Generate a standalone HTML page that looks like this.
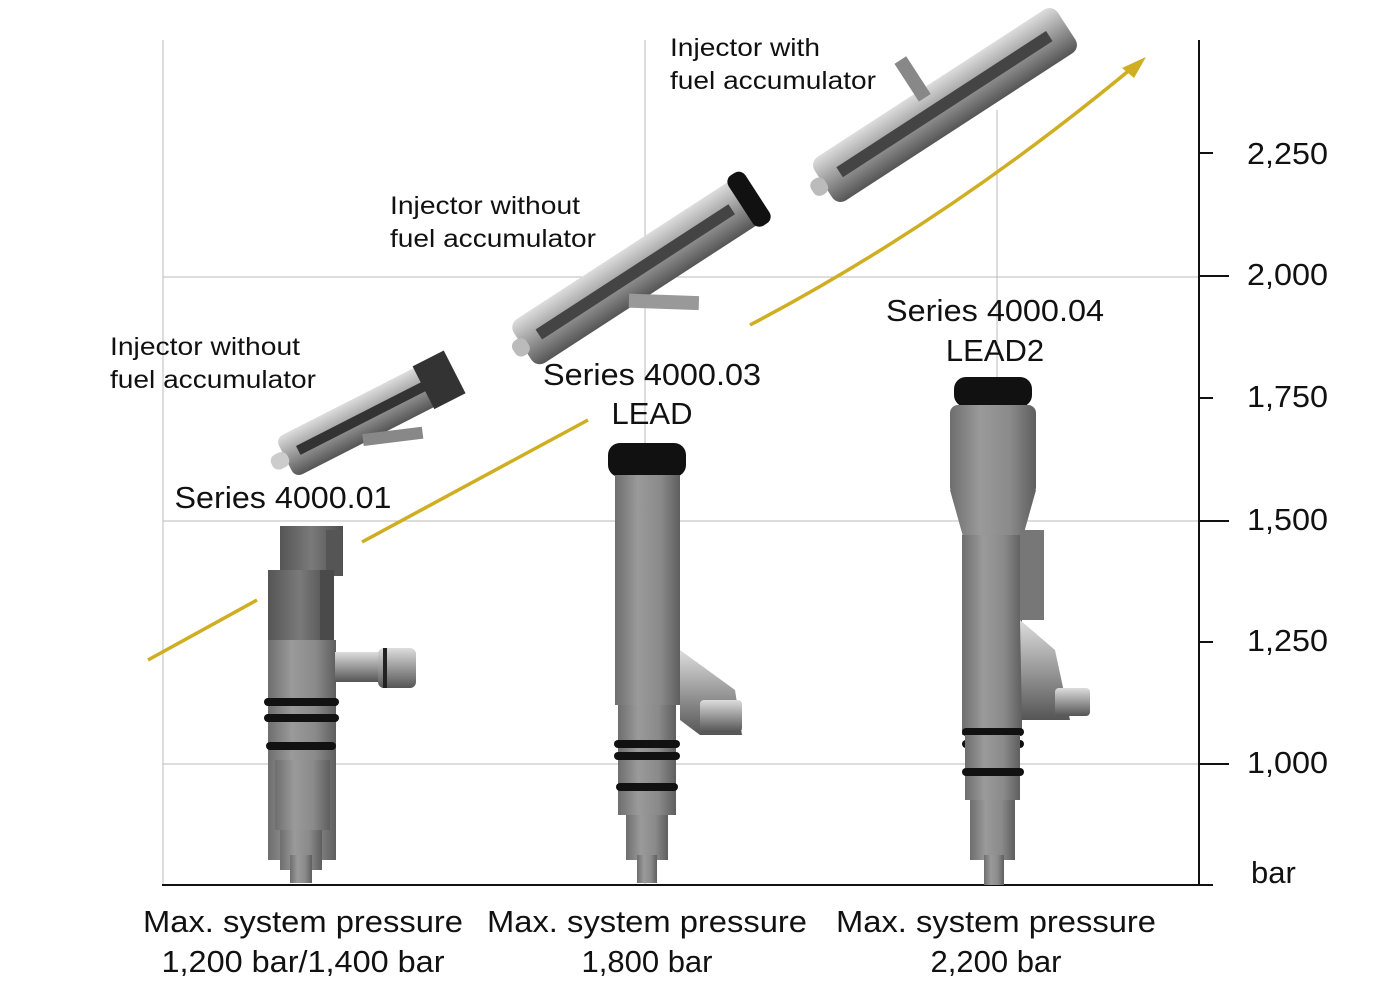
<!DOCTYPE html>
<html><head><meta charset="utf-8"><style>
html,body{margin:0;padding:0;background:#fff;}
svg{display:block;}
text{font-family:"Liberation Sans",sans-serif;fill:#111;}
</style></head><body>
<svg width="1373" height="1000" viewBox="0 0 1373 1000" xmlns="http://www.w3.org/2000/svg">
<defs>
<linearGradient id="g" x1="0" x2="1" y1="0" y2="0">
<stop offset="0" stop-color="#6e6e6e"/><stop offset="0.35" stop-color="#9a9a9a"/><stop offset="0.7" stop-color="#8a8a8a"/><stop offset="1" stop-color="#5e5e5e"/></linearGradient>
<linearGradient id="gd" x1="0" x2="1" y1="0" y2="0">
<stop offset="0" stop-color="#555"/><stop offset="0.5" stop-color="#7a7a7a"/><stop offset="1" stop-color="#4e4e4e"/></linearGradient>
<linearGradient id="gl" x1="0" x2="0" y1="0" y2="1">
<stop offset="0" stop-color="#ddd"/><stop offset="0.5" stop-color="#999"/><stop offset="1" stop-color="#555"/></linearGradient>
</defs>
<g stroke="#bbb" stroke-width="1">
<line x1="163" y1="40" x2="163" y2="885"/>
<line x1="645" y1="40" x2="645" y2="885"/>
<line x1="997" y1="110" x2="997" y2="885"/>
<line x1="163" y1="277" x2="1199" y2="277"/>
<line x1="163" y1="521" x2="1199" y2="521"/>
<line x1="163" y1="764" x2="1199" y2="764"/>
</g>
<g stroke="#111" stroke-width="2">
<line x1="1199" y1="40" x2="1199" y2="886"/>
<line x1="162" y1="885" x2="1213" y2="885"/>
<line x1="1199" y1="153" x2="1213" y2="153"/>
<line x1="1199" y1="276" x2="1229" y2="276"/>
<line x1="1199" y1="398" x2="1213" y2="398"/>
<line x1="1199" y1="521" x2="1229" y2="521"/>
<line x1="1199" y1="642" x2="1213" y2="642"/>
<line x1="1199" y1="764" x2="1229" y2="764"/>
</g>
<g font-size="31">
<text x="1247" y="164" textLength="81" lengthAdjust="spacingAndGlyphs">2,250</text>
<text x="1247" y="285" textLength="81" lengthAdjust="spacingAndGlyphs">2,000</text>
<text x="1247" y="407" textLength="81" lengthAdjust="spacingAndGlyphs">1,750</text>
<text x="1247" y="530" textLength="81" lengthAdjust="spacingAndGlyphs">1,500</text>
<text x="1247" y="651" textLength="81" lengthAdjust="spacingAndGlyphs">1,250</text>
<text x="1247" y="773" textLength="81" lengthAdjust="spacingAndGlyphs">1,000</text>
<text x="1251" y="883">bar</text>
</g>
<g stroke="#cfae22" stroke-width="3.5" fill="none">
<path d="M148 660 L257 600"/>
<path d="M362 542 L588 420"/>
<path d="M750 325 Q950 220 1138 63"/>
</g>
<polygon points="1146,57 1122,68 1134,78" fill="#cfae22"/>
<g>
<rect x="280" y="526" width="63" height="50" fill="url(#gd)"/>
<rect x="326" y="530" width="16" height="45" fill="#555"/>
<rect x="268" y="570" width="63" height="70" fill="url(#gd)"/>
<rect x="320" y="570" width="14" height="75" fill="#4a4a4a"/>
<rect x="268" y="640" width="68" height="220" fill="url(#g)"/>
<rect x="335" y="652" width="45" height="30" fill="url(#gl)"/>
<rect x="378" y="648" width="38" height="40" rx="6" fill="url(#gl)"/>
<rect x="383" y="648" width="4" height="40" fill="#222"/>
<rect x="264" y="698" width="75" height="8" rx="4" fill="#111"/>
<rect x="264" y="714" width="75" height="8" rx="4" fill="#111"/>
<rect x="266" y="742" width="70" height="8" rx="4" fill="#111"/>
<rect x="275" y="760" width="55" height="70" fill="url(#g)"/>
<rect x="280" y="830" width="42" height="40" fill="url(#g)"/>
<rect x="290" y="855" width="22" height="28" fill="url(#g)"/>
</g>
<g>
<rect x="608" y="443" width="78" height="34" rx="12" fill="#111"/>
<rect x="615" y="475" width="65" height="230" fill="url(#g)"/>
<polygon points="680,650 735,690 742,735 700,735 680,720" fill="url(#gl)"/>
<rect x="700" y="700" width="42" height="32" rx="4" fill="url(#gl)"/>
<rect x="618" y="705" width="58" height="110" fill="url(#g)"/>
<rect x="614" y="740" width="66" height="8" rx="4" fill="#111"/>
<rect x="614" y="752" width="66" height="8" rx="4" fill="#111"/>
<rect x="616" y="783" width="62" height="8" rx="4" fill="#111"/>
<rect x="626" y="815" width="42" height="45" fill="url(#g)"/>
<rect x="637" y="855" width="20" height="28" fill="url(#g)"/>
</g>
<g>
<rect x="954" y="377" width="78" height="30" rx="12" fill="#111"/>
<rect x="950" y="405" width="86" height="90" rx="8" fill="url(#g)"/>
<polygon points="950,490 1036,490 1022,540 964,540" fill="url(#g)"/>
<rect x="962" y="535" width="60" height="200" fill="url(#g)"/>
<rect x="1020" y="530" width="24" height="90" fill="#777"/>
<polygon points="1020,620 1055,650 1070,720 1022,720" fill="url(#gl)"/>
<rect x="1055" y="688" width="35" height="28" rx="4" fill="url(#gl)"/>
<rect x="962" y="728" width="62" height="8" rx="4" fill="#111"/>
<rect x="962" y="740" width="62" height="8" rx="4" fill="#111"/>
<rect x="965" y="735" width="55" height="65" fill="url(#g)"/>
<rect x="962" y="768" width="62" height="8" rx="4" fill="#111"/>
<rect x="970" y="800" width="45" height="60" fill="url(#g)"/>
<rect x="984" y="855" width="20" height="30" fill="url(#g)"/>
</g>
<g transform="translate(370,415) rotate(-27)">
<rect x="-95" y="-22" width="180" height="44" rx="8" fill="url(#gl)"/>
<rect x="-80" y="-6" width="150" height="10" fill="#333"/>
<rect x="60" y="-24" width="35" height="48" fill="#333"/>
<rect x="-10" y="18" width="60" height="12" fill="#888" transform="rotate(20)"/>
<rect x="-110" y="-8" width="18" height="16" rx="7" fill="#ccc"/>
</g>
<g transform="translate(640,270) rotate(-33)">
<rect x="-140" y="-26" width="270" height="52" rx="10" fill="url(#gl)"/>
<rect x="-120" y="-7" width="230" height="12" fill="#444"/>
<rect x="120" y="-30" width="20" height="60" rx="8" fill="#111"/>
<rect x="-10" y="24" width="70" height="14" fill="#999" transform="rotate(35)"/>
<rect x="-150" y="-9" width="16" height="18" rx="7" fill="#bbb"/>
</g>
<g transform="translate(945,105) rotate(-33)">
<rect x="-145" y="-26" width="290" height="52" rx="10" fill="url(#gl)"/>
<rect x="-125" y="-7" width="250" height="12" fill="#444"/>
<rect x="-20" y="-62" width="14" height="45" fill="#888"/>
<rect x="-158" y="-9" width="16" height="18" rx="7" fill="#bbb"/>
</g>
<g font-size="25">
<text x="670" y="56" textLength="150" lengthAdjust="spacingAndGlyphs">Injector with</text>
<text x="670" y="89" textLength="206" lengthAdjust="spacingAndGlyphs">fuel accumulator</text>
<text x="390" y="214" textLength="190" lengthAdjust="spacingAndGlyphs">Injector without</text>
<text x="390" y="247" textLength="206" lengthAdjust="spacingAndGlyphs">fuel accumulator</text>
<text x="110" y="355" textLength="190" lengthAdjust="spacingAndGlyphs">Injector without</text>
<text x="110" y="388" textLength="206" lengthAdjust="spacingAndGlyphs">fuel accumulator</text>
</g>
<g font-size="31" text-anchor="middle">
<text x="283" y="508" textLength="217" lengthAdjust="spacingAndGlyphs">Series 4000.01</text>
<text x="652" y="385" textLength="218" lengthAdjust="spacingAndGlyphs">Series 4000.03</text>
<text x="652" y="424">LEAD</text>
<text x="995" y="321" textLength="218" lengthAdjust="spacingAndGlyphs">Series 4000.04</text>
<text x="995" y="361">LEAD2</text>
<text x="303" y="932" textLength="320" lengthAdjust="spacingAndGlyphs">Max. system pressure</text>
<text x="303" y="972" textLength="283" lengthAdjust="spacingAndGlyphs">1,200 bar/1,400 bar</text>
<text x="647" y="932" textLength="320" lengthAdjust="spacingAndGlyphs">Max. system pressure</text>
<text x="647" y="972">1,800 bar</text>
<text x="996" y="932" textLength="320" lengthAdjust="spacingAndGlyphs">Max. system pressure</text>
<text x="996" y="972">2,200 bar</text>
</g>
</svg>
</body></html>
